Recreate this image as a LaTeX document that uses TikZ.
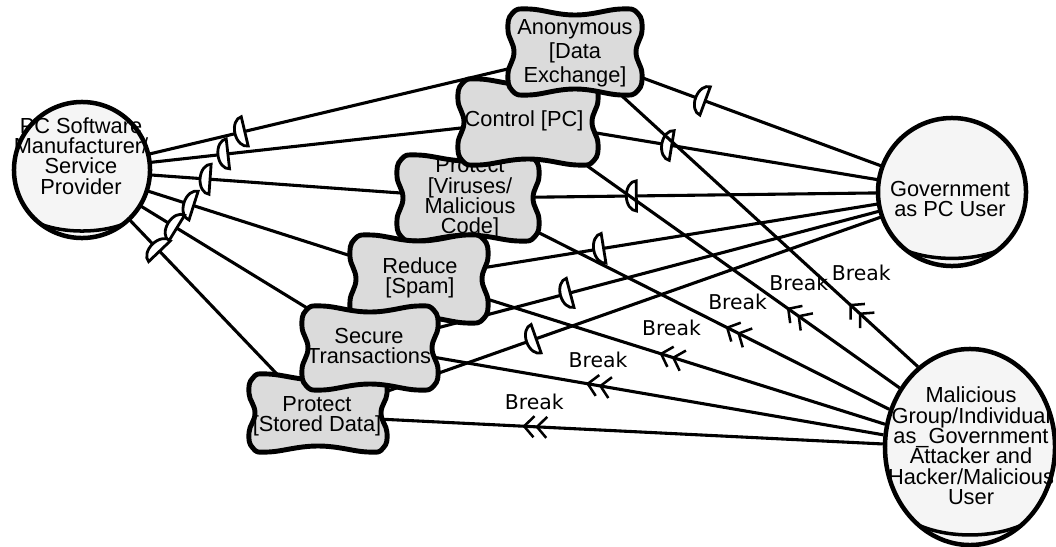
\documentclass[tikz,border=0pt]{standalone}
\usepackage{fontspec}
\setmainfont{Liberation Sans}
\newfontfamily\brkfont{DejaVu Sans}
\usetikzlibrary{arrows.meta,decorations.markings,shapes.geometric}
\pgfdeclarelayer{bg}
\pgfsetlayers{bg,main}

% softgoal outline: centre, half width, half height
\newcommand{\pillow}[3]{%
  \draw[goal,shift={#1}] plot[smooth cycle,tension=0.75] coordinates {(0,-#3+6) (#2-0.5*#3,-#3) (#2-0.1*#3,-0.9*#3) (#2,-0.5*#3) (#2-6,0) (#2,0.5*#3) (#2-0.1*#3,0.9*#3) (#2-0.5*#3,#3) (0,#3-6) (-#2+0.5*#3,#3) (-#2+0.1*#3,0.9*#3) (-#2,0.5*#3) (-#2+6,0) (-#2,-0.5*#3) (-#2+0.1*#3,-0.9*#3) (-#2+0.5*#3,-#3)};}
% curve at the foot of a role
\newcommand{\rolearc}[3]{%
  \draw[line width=2.5pt] ([shift={(-0.6*#2,0.8*#3)}]#1.center) .. controls ([shift={(-0.25*#2,0.93*#3)}]#1.center) and ([shift={(0.25*#2,0.93*#3)}]#1.center) .. ([shift={(0.6*#2,0.8*#3)}]#1.center);}

\tikzset{
  actor/.style={circle,draw,line width=3.2pt,fill=black!4,inner sep=0pt},
  actortext/.style={align=center,font=\fontsize{15.5}{14.5}\selectfont,inner sep=0pt},
  goal/.style={draw,line width=3.5pt,fill=black!14,line join=round},
  goaltext/.style={align=center,font=\fontsize{15.5}{14.5}\selectfont,inner sep=0pt},
  link/.style={line width=2.2pt},
  dmark/.style={link,postaction={decorate},decoration={markings,mark=at position #1 with {\draw[line width=2pt,fill=white] (0,-15) -- (0,15) arc[start angle=90,end angle=-90,x radius=10,y radius=15] -- cycle;}}},
  brk/.style={link,postaction={decorate},decoration={markings,mark=at position #1 with {\arrow{Straight Barb[length=7pt,width=15pt,line width=1.8pt] Straight Barb[length=7pt,width=15pt,line width=1.8pt]}}}},
  brklbl/.style={font=\brkfont\fontsize{14.5}{14.5}\selectfont,inner sep=1pt},
}

\begin{document}
\begin{tikzpicture}[x=0.025cm,y=-0.025cm]
\useasboundingbox (0,0) rectangle (1056,546);

% actors
\node[actor,minimum size=3.4cm] (prov) at (82,170) {};
\rolearc{prov}{68}{68}
\node[actortext] (provlbl) at (81,156) {PC Software\\Manufacturer/\\Service\\Provider};
\node[actor,minimum size=3.7cm] (gov) at (952,192) {};
\rolearc{gov}{74}{74}
\node[actortext] (govlbl) at (950,199) {Government\\as PC User};
\node[actor,ellipse,minimum width=4.25cm,minimum height=4.9cm] (mal) at (970,447) {};
\rolearc{mal}{85}{98}
\node[actortext] (mallbl) at (971,446) {Malicious\\Group/Individual\\as\_Government\\Attacker and\\Hacker/Malicious\\User};

% softgoals
\pillow{(468,198)}{71}{43}
\node[goaltext] (virus) at (470,198) {Protect\\{}[Viruses/\\Malicious\\Code]};
\pillow{(528,122)}{70}{43}
\node[goaltext] (ctrl) at (524,121) {Control [PC]};
\pillow{(575,52)}{67}{43}
\node[goaltext] (anon) at (575,53) {Anonymous\\[2.5pt][Data\\[2.5pt]Exchange]};
\pillow{(318,413)}{69}{39}
\node[goaltext] (store) at (317,416) {Protect\\{}[Stored Data]};
\pillow{(419,279)}{69}{44}
\node[goaltext] (spam) at (420,278) {Reduce\\{}[Spam]};
\pillow{(370,348)}{68}{42}
\node[goaltext] (trans) at (369,346) {Secure\\Transactions};

% links
\begin{pgfonlayer}{bg}
  \foreach \g in {anon,ctrl,virus,spam,trans,store}
    \draw[dmark=0.67] (\g.center) -- (prov.center);
  \foreach \g in {anon,ctrl,virus,spam,trans,store}
    \draw[dmark=0.655] (gov.center) -- (\g.center);
  \foreach \g/\a/\p/\dy in {anon/123/0.2/22,ctrl/140/0.3/18,virus/155/0.39/18,spam/165/0.485/18,trans/172/0.578/17,store/178/0.637/17}
    \draw[brk=\p] (mal.\a) -- node[brklbl,pos=\p,xshift=8.5pt,yshift=\dy pt] (brk\g) {Break} (\g.center);
\end{pgfonlayer}
\end{tikzpicture}
\end{document}
